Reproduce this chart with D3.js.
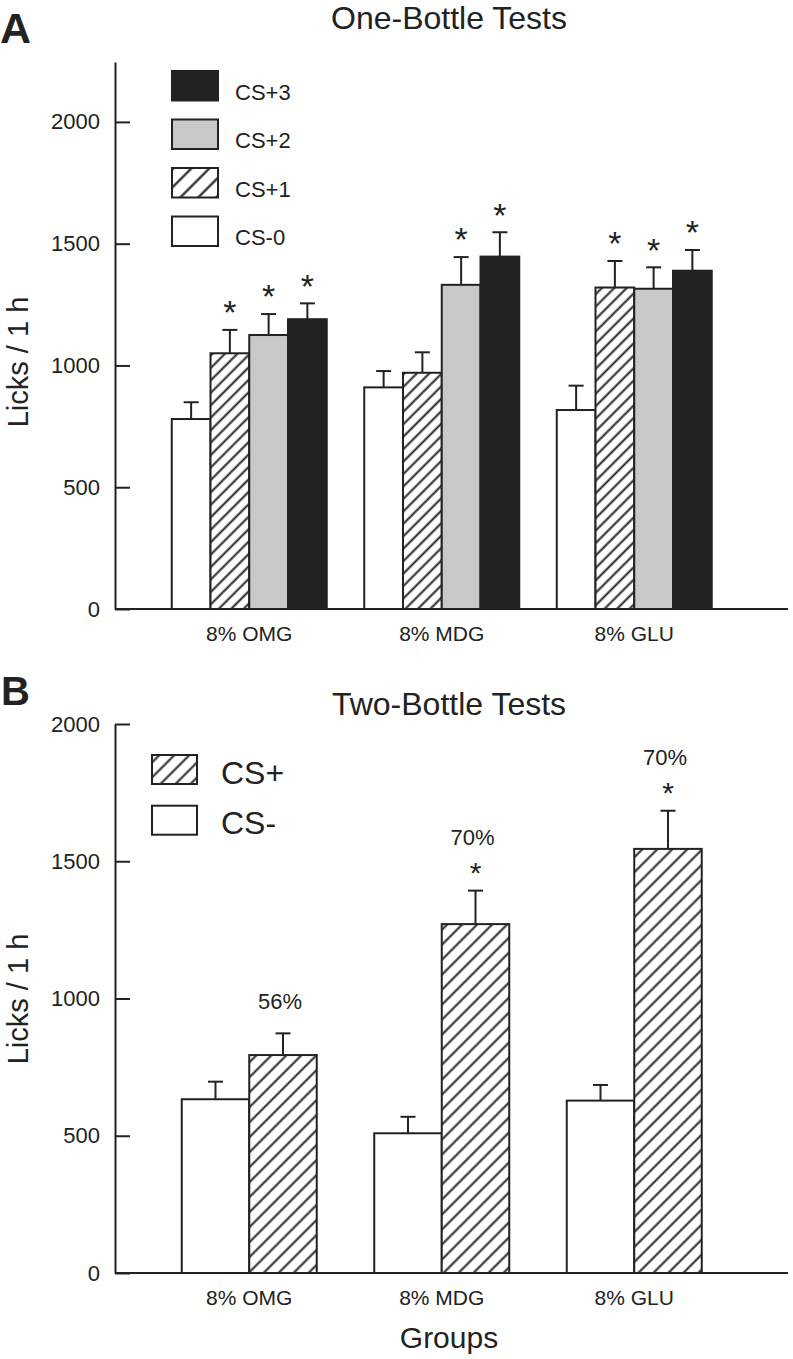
<!DOCTYPE html>
<html><head><meta charset="utf-8">
<script src="https://cdn.jsdelivr.net/npm/d3@7"></script>
<style>
body{margin:0;background:#fff}
text{font-family:"Liberation Sans",Arial,Helvetica,sans-serif;fill:#222}
</style>
</head><body>
<svg id="c" width="793" height="1359"></svg>
<script>
// ---------- data ----------
const groups = ["8% OMG", "8% MDG", "8% GLU"];
const yTicks = [0, 500, 1000, 1500, 2000];

// Panel A: One-Bottle Tests
const oneSeries = ["CS-0", "CS+1", "CS+2", "CS+3"];
const oneCS0 = [780, 910, 817];
const oneCS0Err = [69, 67, 100];
const oneCS1 = [1050, 970, 1320];
const oneCS1Err = [96, 84, 109];
const oneCS2 = [1125, 1331, 1315];
const oneCS2Err = [86, 114, 88];
const oneCS3 = [1190, 1447, 1389];
const oneCS3Err = [65, 100, 85];
const oneCS0Sig = [false, false, false];
const oneCS1Sig = [true, false, true];
const oneCS2Sig = [true, true, true];
const oneCS3Sig = [true, true, true];

// Panel B: Two-Bottle Tests
const twoSeries = ["CS-", "CS+"];
const twoCSminus = [633, 509, 628];
const twoCSminusErr = [64, 60, 57];
const twoCSplus = [794, 1271, 1545];
const twoCSplusErr = [79, 122, 139];
const twoCSplusSig = [false, true, true];
const twoPercent = ["56%", "70%", "70%"];

// ---------- setup ----------
const ink = "#222";
const svg = d3.select("#c");
const axisLeftX = 115, axisRightX = 788;

const defs = svg.append("defs");
function hatch(id, spacing, sw) {
  const p = defs.append("pattern").attr("id", id)
    .attr("patternUnits", "userSpaceOnUse")
    .attr("width", spacing).attr("height", spacing)
    .attr("patternTransform", "rotate(45)");
  p.append("rect").attr("width", spacing).attr("height", spacing).attr("fill", "#fff");
  p.append("line").attr("x1", spacing / 2).attr("x2", spacing / 2)
    .attr("y1", -1).attr("y2", spacing + 1)
    .attr("stroke", ink).attr("stroke-width", sw);
}
hatch("hatchA", 8.8, 2);
hatch("hatchAleg", 12.7, 2.2);
hatch("hatchB", 10.6, 2);

const x = d3.scaleBand().domain(groups).range([153, 730.5]);

function yAxis(y, fs) {
  const g = svg.append("g").attr("transform", `translate(${axisLeftX},0)`)
    .call(d3.axisLeft(y).tickValues(yTicks).tickFormat(d3.format("d"))
      .tickSize(-15).tickSizeOuter(0).tickPadding(15));
  g.attr("font-family", null).attr("font-size", null);
  g.select(".domain").attr("stroke", ink).attr("stroke-width", 2);
  g.selectAll(".tick line").attr("stroke", ink).attr("stroke-width", 2);
  g.selectAll(".tick text").attr("fill", ink).style("font-size", fs + "px");
}
function xAxis(y, labelY) {
  svg.append("line").attr("x1", axisLeftX).attr("x2", axisRightX)
    .attr("y1", y(0)).attr("y2", y(0)).attr("stroke", ink).attr("stroke-width", 2.2);
  svg.append("g").selectAll("text").data(groups).join("text")
    .attr("x", d => x(d) + x.bandwidth() / 2).attr("y", labelY)
    .attr("text-anchor", "middle").style("font-size", "21px").text(d => d);
}
function drawBars(y, inner, seriesList, capW, starFs, annot) {
  seriesList.forEach(s => {
    const data = groups.map((g, i) => ({ g, v: s.vals[i], e: s.errs[i], sig: s.sig[i], i }));
    const gg = svg.append("g");
    const cx = d => x(d.g) + inner(s.name) + inner.bandwidth() / 2;
    gg.selectAll("line.eb").data(data).join("line").attr("class", "eb")
      .attr("x1", cx).attr("x2", cx)
      .attr("y1", d => y(d.v)).attr("y2", d => y(d.v + d.e))
      .attr("stroke", ink).attr("stroke-width", 2);
    gg.selectAll("line.cap").data(data).join("line").attr("class", "cap")
      .attr("x1", d => cx(d) - capW / 2).attr("x2", d => cx(d) + capW / 2)
      .attr("y1", d => y(d.v + d.e)).attr("y2", d => y(d.v + d.e))
      .attr("stroke", ink).attr("stroke-width", 2);
    gg.selectAll("rect").data(data).join("rect")
      .attr("x", d => x(d.g) + inner(s.name))
      .attr("y", d => y(d.v))
      .attr("width", inner.bandwidth())
      .attr("height", d => y(0) - y(d.v))
      .attr("fill", s.fill).attr("stroke", ink).attr("stroke-width", 2);
    gg.selectAll("text.star").data(data.filter(d => d.sig)).join("text").attr("class", "star")
      .attr("x", cx)
      .attr("y", d => y(d.v + d.e) - 25 + 0.57 * starFs)
      .attr("text-anchor", "middle").style("font-size", starFs + "px").text("*");
    if (annot) {
      gg.selectAll("text.pct").data(data).join("text").attr("class", "pct")
        .attr("x", d => cx(d) - 3)
        .attr("y", d => y(d.v + d.e) - (d.sig ? 53 : 32) + 7.7)
        .attr("text-anchor", "middle").style("font-size", "22px").text(d => annot[d.i]);
    }
  });
}

// ---------- Panel A ----------
const yA = d3.scaleLinear().domain([0, 2246]).range([609, 62]);
const innerA = d3.scaleBand().domain(oneSeries).range([0, x.bandwidth()]).paddingInner(0).paddingOuter(0.484);
const fillA = { "CS-0": "#fff", "CS+1": "url(#hatchA)", "CS+2": "#c8c8c8", "CS+3": ink };
drawBars(yA, innerA, [
  { name: "CS-0", vals: oneCS0, errs: oneCS0Err, sig: oneCS0Sig, fill: fillA["CS-0"] },
  { name: "CS+1", vals: oneCS1, errs: oneCS1Err, sig: oneCS1Sig, fill: fillA["CS+1"] },
  { name: "CS+2", vals: oneCS2, errs: oneCS2Err, sig: oneCS2Sig, fill: fillA["CS+2"] },
  { name: "CS+3", vals: oneCS3, errs: oneCS3Err, sig: oneCS3Sig, fill: fillA["CS+3"] }
], 15, 34, null);
yAxis(yA, 22);
xAxis(yA, 641);

// legend A
const legA = oneSeries.slice().reverse();
const legFillA = { "CS-0": "#fff", "CS+1": "url(#hatchAleg)", "CS+2": "#c8c8c8", "CS+3": ink };
const lgA = svg.append("g").attr("transform", "translate(172,71)");
lgA.selectAll("rect").data(legA).join("rect")
  .attr("x", 0).attr("y", (d, i) => i * 48.5).attr("width", 46).attr("height", 29.5)
  .attr("fill", d => legFillA[d]).attr("stroke", ink).attr("stroke-width", 2);
lgA.selectAll("text").data(legA).join("text")
  .attr("x", 63).attr("y", (d, i) => i * 48.5 + 28.5)
  .style("font-size", "22px").text(d => d);

svg.append("text").attr("x", 449).attr("y", 29).attr("text-anchor", "middle")
  .style("font-size", "32px").text("One-Bottle Tests");
svg.append("text").attr("transform", "translate(28,362) rotate(-90)").attr("text-anchor", "middle")
  .style("font-size", "29px").text("Licks / 1 h");
svg.append("text").attr("x", 0).attr("y", 43).style("font-size", "43px").style("font-weight", "bold").text("A");

// ---------- Panel B ----------
const yB = d3.scaleLinear().domain([0, 2000]).range([1273, 724]);
const innerB = d3.scaleBand().domain(twoSeries).range([0, x.bandwidth()]).paddingInner(0).paddingOuter(0.426);
const fillB = { "CS-": "#fff", "CS+": "url(#hatchB)" };
drawBars(yB, innerB, [
  { name: "CS-", vals: twoCSminus, errs: twoCSminusErr, sig: [false, false, false], fill: fillB["CS-"] }
], 15, 30, null);
drawBars(yB, innerB, [
  { name: "CS+", vals: twoCSplus, errs: twoCSplusErr, sig: twoCSplusSig, fill: fillB["CS+"] }
], 15, 30, twoPercent);
yAxis(yB, 22);
xAxis(yB, 1305);

const legB = ["CS+", "CS-"];
const lgB = svg.append("g").attr("transform", "translate(152,755)");
lgB.selectAll("rect").data(legB).join("rect")
  .attr("x", 0).attr("y", (d, i) => i * 50.7).attr("width", 45).attr("height", 29)
  .attr("fill", d => fillB[d]).attr("stroke", ink).attr("stroke-width", 2);
lgB.selectAll("text").data(legB).join("text")
  .attr("x", 69).attr("y", (d, i) => i * 50.7 + 28.5)
  .style("font-size", "32px").text(d => d);

svg.append("text").attr("x", 449).attr("y", 715).attr("text-anchor", "middle")
  .style("font-size", "32px").text("Two-Bottle Tests");
svg.append("text").attr("transform", "translate(28,999) rotate(-90)").attr("text-anchor", "middle")
  .style("font-size", "29px").text("Licks / 1 h");
svg.append("text").attr("x", 1).attr("y", 705).style("font-size", "40px").style("font-weight", "bold").text("B");
svg.append("text").attr("x", 449).attr("y", 1348).attr("text-anchor", "middle")
  .style("font-size", "30px").text("Groups");
</script>
</body></html>
